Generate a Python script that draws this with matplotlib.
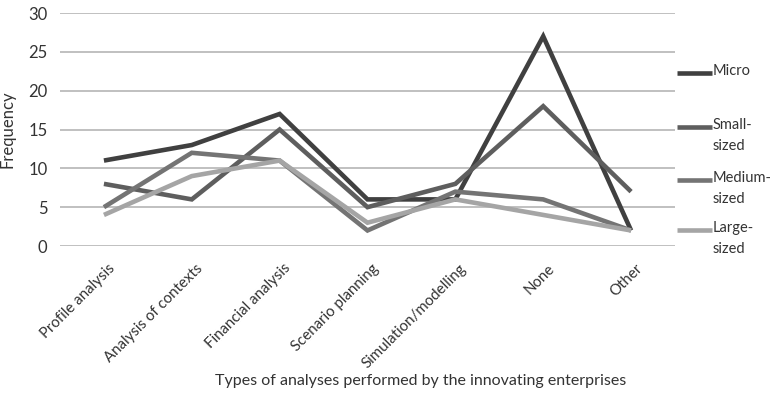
import matplotlib
matplotlib.use("Agg")
import matplotlib.pyplot as plt
from matplotlib.lines import Line2D
from matplotlib.transforms import ScaledTranslation

plt.rcParams['font.family'] = ['Lato', 'DejaVu Sans']

categories = ["Profile analysis", "Analysis of contexts", "Financial analysis",
              "Scenario planning", "Simulation/modelling", "None", "Other"]
micro = [11, 13, 17, 6, 6, 27, 2]
small_sized = [8, 6, 15, 5, 8, 18, 7]
medium_sized = [5, 12, 11, 2, 7, 6, 2]
large_sized = [4, 9, 11, 3, 6, 4, 2]
series_labels = ["Micro", "Small-\nsized", "Medium-\nsized", "Large-\nsized"]
series_colors = ["#404040", "#5e5e5e", "#747474", "#a5a5a5"]
y_ticks = [0, 5, 10, 15, 20, 25, 30]

W, H = 773, 393
TXT = "#333333"
fig = plt.figure(figsize=(W / 100, H / 100), dpi=100)
ax = fig.add_axes([60 / W, 1 - 246 / H, (675 - 60) / W, (246 - 13) / H])

x = list(range(len(categories)))
for vals, col in zip([micro, small_sized, medium_sized, large_sized], series_colors):
    ax.plot(x, vals, color=col, lw=3.3, solid_joinstyle='miter', solid_capstyle='butt', zorder=3)

ax.set_xlim(-0.5, len(categories) - 0.5)
ax.set_ylim(0, 30)
ax.set_yticks(y_ticks)
ax.set_yticklabels([str(v) for v in y_ticks], fontsize=12, color=TXT)
ax.yaxis.grid(True, color="#c0c0c0", lw=1.4, zorder=0)
ax.set_axisbelow(True)
ax.tick_params(axis='y', length=0, pad=9)
for s in ax.spines.values():
    s.set_visible(False)

ax.set_xticks(x)
ax.set_xticklabels(categories, rotation=45, ha='right', va='top', rotation_mode='anchor',
                   fontsize=10.8, color=TXT)
ax.tick_params(axis='x', length=0, pad=11)
shift = ScaledTranslation(4 / 100, 0, fig.dpi_scale_trans)
for lbl in ax.get_xticklabels():
    lbl.set_transform(lbl.get_transform() + shift)

ax.set_ylabel("Frequency", fontsize=12, color=TXT)
ax.yaxis.set_label_coords((16 - 60) / 615, 0.5)
fig.text(421 / W, 1 - 381 / H, "Types of analyses performed by the innovating enterprises",
         ha='center', va='center', fontsize=11.5, color=TXT)

# legend on the right
legend_y = [73, 127, 180, 230]
for lab, col, yy in zip(series_labels, series_colors, legend_y):
    fy = 1 - yy / H
    fig.add_artist(Line2D([677 / W, 712 / W], [fy, fy], color=col, lw=3.3,
                          solid_capstyle='butt', transform=fig.transFigure))
    fig.text(713 / W, fy + 9 / H, lab, ha='left', va='top', fontsize=10.5,
             color=TXT, linespacing=1.6)

fig.savefig("out.png", dpi=100)
